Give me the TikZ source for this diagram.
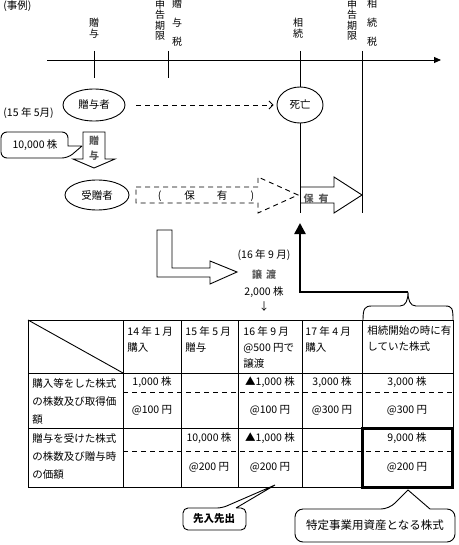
\documentclass[tikz,border=0pt]{standalone}
\usepackage{fontspec}
\newfontfamily\jp{Noto Sans CJK JP}
\usetikzlibrary{arrows.meta,shapes.geometric}

\begin{document}
\begin{tikzpicture}[x=1pt,y=-1pt,line width=0.9pt,
  jtxt/.style={font=\jp\fontsize{10.5}{12}\selectfont,inner sep=0pt},
  vtxt/.style={jtxt,align=center,font=\jp\fontsize{10}{10.5}\selectfont},
  person/.style={draw,ellipse,jtxt,inner sep=0pt},
  dashline/.style={dash pattern=on 5pt off 4pt},
  greytxt/.style={jtxt,font=\jp\bfseries\fontsize{10}{15}\selectfont,text=black!65,align=center},
  cell/.style={jtxt,anchor=west,align=left,font=\jp\fontsize{10.5}{16}\selectfont},
  rowlab/.style={jtxt,anchor=west,align=left,font=\jp\fontsize{10.5}{18}\selectfont}]
\useasboundingbox (0,0) rectangle (458,545);

% time line
\coordinate (t0) at (47,60);
\coordinate (t1) at (441,60);
\coordinate (g1) at (94,51);
\coordinate (g2) at (94,78);
\coordinate (s1) at (168,51);
\coordinate (s2) at (168,78);
\coordinate (d1) at (300,51);
\coordinate (d2) at (300,213);
\coordinate (k1) at (362,51);
\coordinate (k2) at (362,213);

\draw[-{Triangle[length=7pt,width=6pt]}] (t0) -- (t1);
\draw (g1) -- (g2);
\draw (s1) -- (s2);
\draw (k1) -- (k2);

\node[jtxt,anchor=west] (case) at (3,6) {(事例)};
\node[vtxt] (lbgift) at (94,28) {贈\\与};
\node[vtxt] (lbdue1) at (160,20) {申\\告\\期\\限};
\node[vtxt,font=\jp\fontsize{10}{19}\selectfont] (lbtax1) at (177,23) {贈\\与\\税};
\node[vtxt] (lbinh) at (298,28) {相\\続};
\node[vtxt] (lbdue2) at (352,20) {申\\告\\期\\限};
\node[vtxt,font=\jp\fontsize{10}{19}\selectfont] (lbtax2) at (372,23) {相\\続\\税};

% persons
\node[person,minimum width=62pt,minimum height=32pt] (donor) at (94,105) {贈与者};
\node[person,minimum width=46pt,minimum height=36pt] (death) at (300,105) {死亡};
\node[person,minimum width=64pt,minimum height=30pt] (donee) at (97,195) {受贈者};
\node[jtxt,anchor=west] (may15) at (3,113) {(15 年 5月)};

\draw (d1) -- (death.north);
\draw (death.south) -- (d2);
\draw[dashline,shorten <=11pt,shorten >=3pt,-{Straight Barb[length=4pt,width=8pt]}] (donor) -- (death);

% gift
\node[jtxt] (n10k) at (35,145) {10,000 株};
\draw (82,146) -- (68,146) [rounded corners=6pt] -- (68,132) -- (1,132) -- (1,158) -- (68,158) [sharp corners] -- (82,146);
\draw (83,132) -- (105,132) -- (105,159) -- (115,159) -- (94,168) -- (73,159) -- (83,159) -- cycle;
\node[greytxt] (giftarr) at (94,148) {贈\\与};

% holding
\draw[dashline] (136,187) -- (258,187) -- (258,177) -- (298,195) -- (258,213) -- (258,203) -- (136,203) -- cycle;
\node[jtxt] (keep1) at (206,196) {(\hspace{23pt}保\hspace{22pt}有\hspace{23pt})};
\draw (300,187) -- (334,187) -- (334,177) -- (362,195) -- (334,213) -- (334,203) -- (300,203);
\node[greytxt] (keep2) at (316,199) {保\hspace{5pt}有};

% sale
\draw (157,230) -- (172,230) -- (172,268) -- (210,268) -- (210,261) -- (237,272) -- (210,284) -- (210,277) -- (157,277) -- cycle;
\node[jtxt] (sep16) at (264,255) {(16 年 9 月)};
\node[greytxt] (sale) at (264,275) {譲\hspace{4pt}渡};
\node[jtxt] (n2k) at (264,292) {2,000 株};
\node[jtxt] (down) at (264,307) {↓};

% inherited shares
\coordinate (bt) at (408,292);
\coordinate (bc) at (300,292);
\coordinate (up) at (300,223);
\draw[line width=2.4pt,-{Triangle[length=11pt,width=11pt]}] (bt) -- (bc) -- (up);
\draw (363,320) .. controls (363,308) and (365,306) .. (372,306) -- (400,306)
  .. controls (406,306) and (408,300) .. (bt)
  .. controls (408,300) and (410,306) .. (416,306) -- (445,306)
  .. controls (452,306) and (453,308) .. (453,320);

% table
\draw (28,320) rectangle (453,487);
\draw (123,320) -- (123,487);
\draw (181,320) -- (181,487);
\draw (238,320) -- (238,487);
\draw (302,320) -- (302,487);
\draw (362,320) -- (362,487);
\draw (28,373) -- (453,373);
\draw (28,428) -- (453,428);
\draw[dashline] (123,392) -- (453,392);
\draw[dashline] (123,451) -- (453,451);
\draw (28,320) -- (123,373);
\draw[line width=3pt] (362,428) rectangle (452,487);

\node[cell] (h1) at (127,339) {14 年 1 月\\購入};
\node[cell] (h2) at (185,339) {15 年 5 月\\贈与};
\node[cell] (h3) at (243,347) {16 年 9 月\\@500 円で\\譲渡};
\node[cell] (h4) at (305,339) {17 年 4 月\\購入};
\node[cell] (h5) at (367,339) {相続開始の時に有\\していた株式};

\node[rowlab] (r1) at (32,401) {購入等をした株式\\の株数及び取得価\\額};
\node[rowlab] (r2) at (32,456) {贈与を受けた株式\\の株数及び贈与時\\の価額};

\node[jtxt] (a1) at (152,382) {1,000 株};
\node[jtxt] (b1) at (152,410) {@100 円};
\node[jtxt] (a3) at (270,382) {▲1,000 株};
\node[jtxt] (b3) at (270,410) {@100 円};
\node[jtxt] (a4) at (332,382) {3,000 株};
\node[jtxt] (b4) at (332,410) {@300 円};
\node[jtxt] (a5) at (407,382) {3,000 株};
\node[jtxt] (b5) at (407,410) {@300 円};

\node[jtxt] (c2) at (209,438) {10,000 株};
\node[jtxt] (e2) at (209,467) {@200 円};
\node[jtxt] (c3) at (270,438) {▲1,000 株};
\node[jtxt] (e3) at (270,467) {@200 円};
\node[jtxt] (c5) at (407,438) {9,000 株};
\node[jtxt] (e5) at (407,467) {@200 円};

% callouts
\coordinate (fifotip) at (275,485);
\node[jtxt,font=\jp\bfseries\fontsize{10.5}{12}\selectfont] (fifo) at (214,519) {先入先出};
\draw (236,508) [rounded corners=5pt] -- (246,508) -- (246,530) -- (183,530) -- (183,508) -- (222,508) [sharp corners] -- (fifotip) -- (236,508);

\coordinate (spectip) at (408,490);
\node[jtxt,font=\jp\fontsize{11.5}{13}\selectfont] (spec) at (375,525) {特定事業用資産となる株式};
\draw (430,509) [rounded corners=8pt] -- (455,509) -- (455,542) -- (295,542) -- (295,509) -- (389,509) [sharp corners] -- (spectip) -- (430,509);
\end{tikzpicture}
\end{document}
